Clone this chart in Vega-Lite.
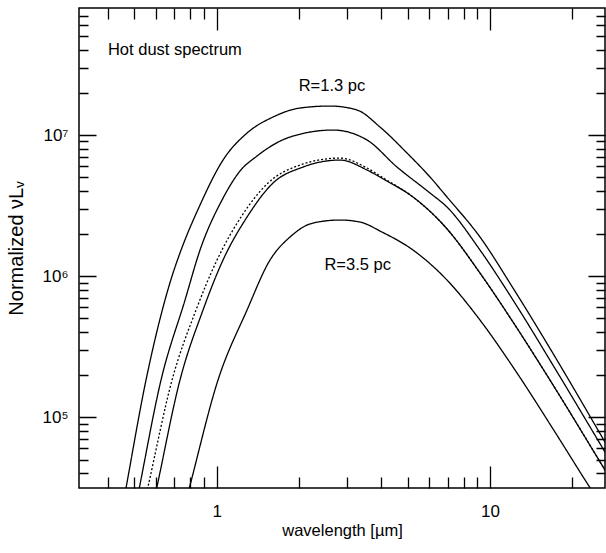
{
  "$schema": "https://vega.github.io/schema/vega-lite/v6.json",
  "width": 526,
  "height": 480,
  "autosize": "none",
  "padding": {"left": 79, "top": 8, "right": 1, "bottom": 65},
  "background": "white",
  "config": {
    "view": {"stroke": "black", "strokeWidth": 1.5},
    "font": "Liberation Sans",
    "axis": {"labelFont": "Liberation Sans", "titleFont": "Liberation Sans", "labelColor": "black", "titleColor": "black", "domain": false, "ticks": false, "tickSize": 0, "labelOverlap": false, "labelFlush": false, "titleFontWeight": "normal", "grid": true, "gridColor": "black", "gridOpacity": 1, "gridWidth": 1.3}
  },
  "resolve": {"scale": {"size": "independent"}},
  "datasets": {
    "xticks": [
      {"lam": 0.4, "kind": "minor"}, {"lam": 0.5, "kind": "minor"}, {"lam": 0.6, "kind": "minor"},
      {"lam": 0.7, "kind": "minor"}, {"lam": 0.8, "kind": "minor"}, {"lam": 0.9, "kind": "minor"},
      {"lam": 1, "kind": "major"},
      {"lam": 2, "kind": "minor"}, {"lam": 3, "kind": "minor"}, {"lam": 4, "kind": "minor"},
      {"lam": 5, "kind": "minor"}, {"lam": 6, "kind": "minor"}, {"lam": 7, "kind": "minor"},
      {"lam": 8, "kind": "minor"}, {"lam": 9, "kind": "minor"},
      {"lam": 10, "kind": "major"},
      {"lam": 20, "kind": "minor"}
    ],
    "yticks": [
      {"v": 40000, "kind": "minor"}, {"v": 50000, "kind": "minor"}, {"v": 60000, "kind": "minor"},
      {"v": 70000, "kind": "minor"}, {"v": 80000, "kind": "minor"}, {"v": 90000, "kind": "minor"},
      {"v": 100000, "kind": "major"},
      {"v": 200000, "kind": "minor"}, {"v": 300000, "kind": "minor"}, {"v": 400000, "kind": "minor"},
      {"v": 500000, "kind": "minor"}, {"v": 600000, "kind": "minor"}, {"v": 700000, "kind": "minor"},
      {"v": 800000, "kind": "minor"}, {"v": 900000, "kind": "minor"},
      {"v": 1000000, "kind": "major"},
      {"v": 2000000, "kind": "minor"}, {"v": 3000000, "kind": "minor"}, {"v": 4000000, "kind": "minor"},
      {"v": 5000000, "kind": "minor"}, {"v": 6000000, "kind": "minor"}, {"v": 7000000, "kind": "minor"},
      {"v": 8000000, "kind": "minor"}, {"v": 9000000, "kind": "minor"},
      {"v": 10000000, "kind": "major"},
      {"v": 20000000, "kind": "minor"}, {"v": 30000000, "kind": "minor"}, {"v": 40000000, "kind": "minor"},
      {"v": 50000000, "kind": "minor"}, {"v": 60000000, "kind": "minor"}, {"v": 70000000, "kind": "minor"}
    ]
  },
  "layer": [
    {
      "data": {"values": [
        {"curve": "R=1.3 pc", "lam": 0.4537, "v": 23760},
        {"curve": "R=1.3 pc", "lam": 0.4657, "v": 31370},
        {"curve": "R=1.3 pc", "lam": 0.5512, "v": 183000},
        {"curve": "R=1.3 pc", "lam": 0.6468, "v": 675700},
        {"curve": "R=1.3 pc", "lam": 0.6864, "v": 1000000},
        {"curve": "R=1.3 pc", "lam": 0.7338, "v": 1456000},
        {"curve": "R=1.3 pc", "lam": 0.8688, "v": 3190000},
        {"curve": "R=1.3 pc", "lam": 1.0546, "v": 6647000},
        {"curve": "R=1.3 pc", "lam": 1.291, "v": 10330000},
        {"curve": "R=1.3 pc", "lam": 1.607, "v": 13420000},
        {"curve": "R=1.3 pc", "lam": 2.017, "v": 15540000},
        {"curve": "R=1.3 pc", "lam": 2.598, "v": 16060000},
        {"curve": "R=1.3 pc", "lam": 3.262, "v": 15040000},
        {"curve": "R=1.3 pc", "lam": 3.959, "v": 11390000},
        {"curve": "R=1.3 pc", "lam": 4.97, "v": 7453000},
        {"curve": "R=1.3 pc", "lam": 6.033, "v": 5037000},
        {"curve": "R=1.3 pc", "lam": 6.961, "v": 3634000},
        {"curve": "R=1.3 pc", "lam": 9.192, "v": 1891000},
        {"curve": "R=1.3 pc", "lam": 12.14, "v": 822000},
        {"curve": "R=1.3 pc", "lam": 15.89, "v": 351700},
        {"curve": "R=1.3 pc", "lam": 19.62, "v": 177100},
        {"curve": "R=1.3 pc", "lam": 26.35, "v": 66500},
        {"curve": "R=1.3 pc", "lam": 31.19, "v": 38160},

        {"curve": "curve 2", "lam": 0.5064, "v": 23760},
        {"curve": "curve 2", "lam": 0.5209, "v": 31370},
        {"curve": "curve 2", "lam": 0.6255, "v": 183000},
        {"curve": "curve 2", "lam": 0.7657, "v": 675700},
        {"curve": "curve 2", "lam": 0.8688, "v": 1529000},
        {"curve": "curve 2", "lam": 1.0457, "v": 3459000},
        {"curve": "curve 2", "lam": 1.217, "v": 5556000},
        {"curve": "curve 2", "lam": 1.404, "v": 7097000},
        {"curve": "curve 2", "lam": 1.854, "v": 9679000},
        {"curve": "curve 2", "lam": 2.664, "v": 10850000},
        {"curve": "curve 2", "lam": 3.548, "v": 9216000},
        {"curve": "curve 2", "lam": 4.567, "v": 5929000},
        {"curve": "curve 2", "lam": 6.033, "v": 3879000},
        {"curve": "curve 2", "lam": 6.961, "v": 3086000},
        {"curve": "curve 2", "lam": 9.192, "v": 1529000},
        {"curve": "curve 2", "lam": 12.14, "v": 675700},
        {"curve": "curve 2", "lam": 17.43, "v": 215400},
        {"curve": "curve 2", "lam": 26.35, "v": 56470},
        {"curve": "curve 2", "lam": 32.53, "v": 28440},

        {"curve": "curve 3 (dotted)", "lam": 0.5415, "v": 23760},
        {"curve": "curve 3 (dotted)", "lam": 0.5592, "v": 31370},
        {"curve": "curve 3 (dotted)", "lam": 0.6864, "v": 183000},
        {"curve": "curve 3 (dotted)", "lam": 0.84, "v": 574100},
        {"curve": "curve 3 (dotted)", "lam": 1.0025, "v": 1299000},
        {"curve": "curve 3 (dotted)", "lam": 1.227, "v": 2620000},
        {"curve": "curve 3 (dotted)", "lam": 1.541, "v": 4566000},
        {"curve": "curve 3 (dotted)", "lam": 2.017, "v": 6126000},
        {"curve": "curve 3 (dotted)", "lam": 2.826, "v": 6868000},
        {"curve": "curve 3 (dotted)", "lam": 3.548, "v": 5834000},
        {"curve": "curve 3 (dotted)", "lam": 4.129, "v": 4875000},
        {"curve": "curve 3 (dotted)", "lam": 5.228, "v": 3634000},
        {"curve": "curve 3 (dotted)", "lam": 6.961, "v": 2160000},
        {"curve": "curve 3 (dotted)", "lam": 9.192, "v": 1050000},
        {"curve": "curve 3 (dotted)", "lam": 12.14, "v": 471800},
        {"curve": "curve 3 (dotted)", "lam": 15.89, "v": 208500},
        {"curve": "curve 3 (dotted)", "lam": 26.35, "v": 42090},
        {"curve": "curve 3 (dotted)", "lam": 31.19, "v": 24550},

        {"curve": "curve 4", "lam": 0.5847, "v": 23760},
        {"curve": "curve 4", "lam": 0.6031, "v": 31370},
        {"curve": "curve 4", "lam": 0.7338, "v": 183000},
        {"curve": "curve 4", "lam": 0.891, "v": 574100},
        {"curve": "curve 4", "lam": 1.0546, "v": 1299000},
        {"curve": "curve 4", "lam": 1.291, "v": 2620000},
        {"curve": "curve 4", "lam": 1.607, "v": 4566000},
        {"curve": "curve 4", "lam": 2.069, "v": 5929000},
        {"curve": "curve 4", "lam": 2.826, "v": 6647000},
        {"curve": "curve 4", "lam": 3.548, "v": 5647000},
        {"curve": "curve 4", "lam": 4.129, "v": 4798000},
        {"curve": "curve 4", "lam": 5.228, "v": 3634000},
        {"curve": "curve 4", "lam": 6.961, "v": 2160000},
        {"curve": "curve 4", "lam": 9.192, "v": 1050000},
        {"curve": "curve 4", "lam": 12.14, "v": 471800},
        {"curve": "curve 4", "lam": 15.89, "v": 208500},
        {"curve": "curve 4", "lam": 26.35, "v": 42090},
        {"curve": "curve 4", "lam": 31.19, "v": 24550},

        {"curve": "R=3.5 pc", "lam": 0.7644, "v": 23760},
        {"curve": "R=3.5 pc", "lam": 0.7938, "v": 31370},
        {"curve": "R=3.5 pc", "lam": 1.011, "v": 183000},
        {"curve": "R=3.5 pc", "lam": 1.291, "v": 574100},
        {"curve": "R=3.5 pc", "lam": 1.567, "v": 1299000},
        {"curve": "R=3.5 pc", "lam": 1.854, "v": 1891000},
        {"curve": "R=3.5 pc", "lam": 2.251, "v": 2377000},
        {"curve": "R=3.5 pc", "lam": 2.826, "v": 2496000},
        {"curve": "R=3.5 pc", "lam": 3.344, "v": 2415000},
        {"curve": "R=3.5 pc", "lam": 4.026, "v": 2051000},
        {"curve": "R=3.5 pc", "lam": 5.228, "v": 1529000},
        {"curve": "R=3.5 pc", "lam": 6.961, "v": 936700},
        {"curve": "R=3.5 pc", "lam": 9.192, "v": 487400},
        {"curve": "R=3.5 pc", "lam": 12.35, "v": 215400},
        {"curve": "R=3.5 pc", "lam": 17.29, "v": 78280},
        {"curve": "R=3.5 pc", "lam": 23.02, "v": 32400},
        {"curve": "R=3.5 pc", "lam": 25.26, "v": 24550}
      ]},
      "mark": {"type": "line", "clip": true, "strokeWidth": 1.3, "color": "black", "interpolate": "monotone"},
      "encoding": {
        "x": {"field": "lam", "type": "quantitative",
          "scale": {"type": "log", "domain": [0.3134, 26.35], "nice": false},
          "axis": {"orient": "bottom", "values": [0.4, 0.5, 0.6, 0.7, 0.8, 0.9, 1, 2, 3, 4, 5, 6, 7, 8, 9, 10, 20], "labelExpr": "datum.value == 1 ? '1' : datum.value == 10 ? '10' : ''", "labelFontSize": 17, "labelPadding": 15, "title": "wavelength [µm]", "titleFontSize": 16.5, "titleY": 34, "titleBaseline": "top", "gridDash": {"condition": {"test": "datum.value == 1 || datum.value == 10", "value": [22, 436, 22, 0]}, "value": [11, 458, 11, 0]}}},
        "y": {"field": "v", "type": "quantitative",
          "scale": {"type": "log", "domain": [31400, 79600000], "nice": false},
          "axis": {"orient": "left", "values": [40000, 50000, 60000, 70000, 80000, 90000, 100000, 200000, 300000, 400000, 500000, 600000, 700000, 800000, 900000, 1000000, 2000000, 3000000, 4000000, 5000000, 6000000, 7000000, 8000000, 9000000, 10000000, 20000000, 30000000, 40000000, 50000000, 60000000, 70000000], "labelExpr": "datum.value == 100000 ? '10⁵' : datum.value == 1000000 ? '10⁶' : datum.value == 10000000 ? '10⁷' : ''", "labelFontSize": 17, "labelPadding": 11, "title": "Normalized νLᵥ", "titleFontSize": 20, "titlePadding": 16, "gridDash": {"condition": {"test": "datum.value == 100000 || datum.value == 1000000 || datum.value == 10000000", "value": [17, 492, 17, 0]}, "value": [9, 508, 9, 0]}}},
        "strokeDash": {"field": "curve", "type": "nominal",
          "scale": {"domain": ["R=1.3 pc", "curve 2", "curve 3 (dotted)", "curve 4", "R=3.5 pc"], "range": [[1, 0], [1, 0], [2, 2], [1, 0], [1, 0]]},
          "legend": null}
      }
    },
    {
      "data": {"values": [
        {"text": "Hot dust spectrum", "lam": 0.4, "v": 40000000}
      ]},
      "mark": {"type": "text", "align": "left", "baseline": "middle", "fontSize": 16.5, "font": "Liberation Sans", "color": "black"},
      "encoding": {
        "x": {"field": "lam", "type": "quantitative",
          "axis": {"orient": "bottom", "values": [0.4, 0.5, 0.6, 0.7, 0.8, 0.9, 1, 2, 3, 4, 5, 6, 7, 8, 9, 10, 20], "labelExpr": "datum.value == 1 ? '1' : datum.value == 10 ? '10' : ''", "labelFontSize": 17, "labelPadding": 15, "title": "wavelength [µm]", "titleFontSize": 16.5, "titleY": 34, "titleBaseline": "top", "gridDash": {"condition": {"test": "datum.value == 1 || datum.value == 10", "value": [22, 436, 22, 0]}, "value": [11, 458, 11, 0]}}},
        "y": {"field": "v", "type": "quantitative",
          "axis": {"orient": "left", "values": [40000, 50000, 60000, 70000, 80000, 90000, 100000, 200000, 300000, 400000, 500000, 600000, 700000, 800000, 900000, 1000000, 2000000, 3000000, 4000000, 5000000, 6000000, 7000000, 8000000, 9000000, 10000000, 20000000, 30000000, 40000000, 50000000, 60000000, 70000000], "labelExpr": "datum.value == 100000 ? '10⁵' : datum.value == 1000000 ? '10⁶' : datum.value == 10000000 ? '10⁷' : ''", "labelFontSize": 17, "labelPadding": 11, "title": "Normalized νLᵥ", "titleFontSize": 20, "titlePadding": 16, "gridDash": {"condition": {"test": "datum.value == 100000 || datum.value == 1000000 || datum.value == 10000000", "value": [17, 492, 17, 0]}, "value": [9, 508, 9, 0]}}},
        "text": {"field": "text"}
      }
    },
    {
      "data": {"values": [
        {"text": "R=1.3 pc", "lam": 2.64, "v": 22100000},
        {"text": "R=3.5 pc", "lam": 3.28, "v": 1200000}
      ]},
      "mark": {"type": "text", "align": "center", "baseline": "middle", "fontSize": 16.5, "font": "Liberation Sans", "color": "black"},
      "encoding": {
        "x": {"field": "lam", "type": "quantitative",
          "axis": {"orient": "bottom", "values": [0.4, 0.5, 0.6, 0.7, 0.8, 0.9, 1, 2, 3, 4, 5, 6, 7, 8, 9, 10, 20], "labelExpr": "datum.value == 1 ? '1' : datum.value == 10 ? '10' : ''", "labelFontSize": 17, "labelPadding": 15, "title": "wavelength [µm]", "titleFontSize": 16.5, "titleY": 34, "titleBaseline": "top", "gridDash": {"condition": {"test": "datum.value == 1 || datum.value == 10", "value": [22, 436, 22, 0]}, "value": [11, 458, 11, 0]}}},
        "y": {"field": "v", "type": "quantitative",
          "axis": {"orient": "left", "values": [40000, 50000, 60000, 70000, 80000, 90000, 100000, 200000, 300000, 400000, 500000, 600000, 700000, 800000, 900000, 1000000, 2000000, 3000000, 4000000, 5000000, 6000000, 7000000, 8000000, 9000000, 10000000, 20000000, 30000000, 40000000, 50000000, 60000000, 70000000], "labelExpr": "datum.value == 100000 ? '10⁵' : datum.value == 1000000 ? '10⁶' : datum.value == 10000000 ? '10⁷' : ''", "labelFontSize": 17, "labelPadding": 11, "title": "Normalized νLᵥ", "titleFontSize": 20, "titlePadding": 16, "gridDash": {"condition": {"test": "datum.value == 100000 || datum.value == 1000000 || datum.value == 10000000", "value": [17, 492, 17, 0]}, "value": [9, 508, 9, 0]}}},
        "text": {"field": "text"}
      }
    }
  ]
}
